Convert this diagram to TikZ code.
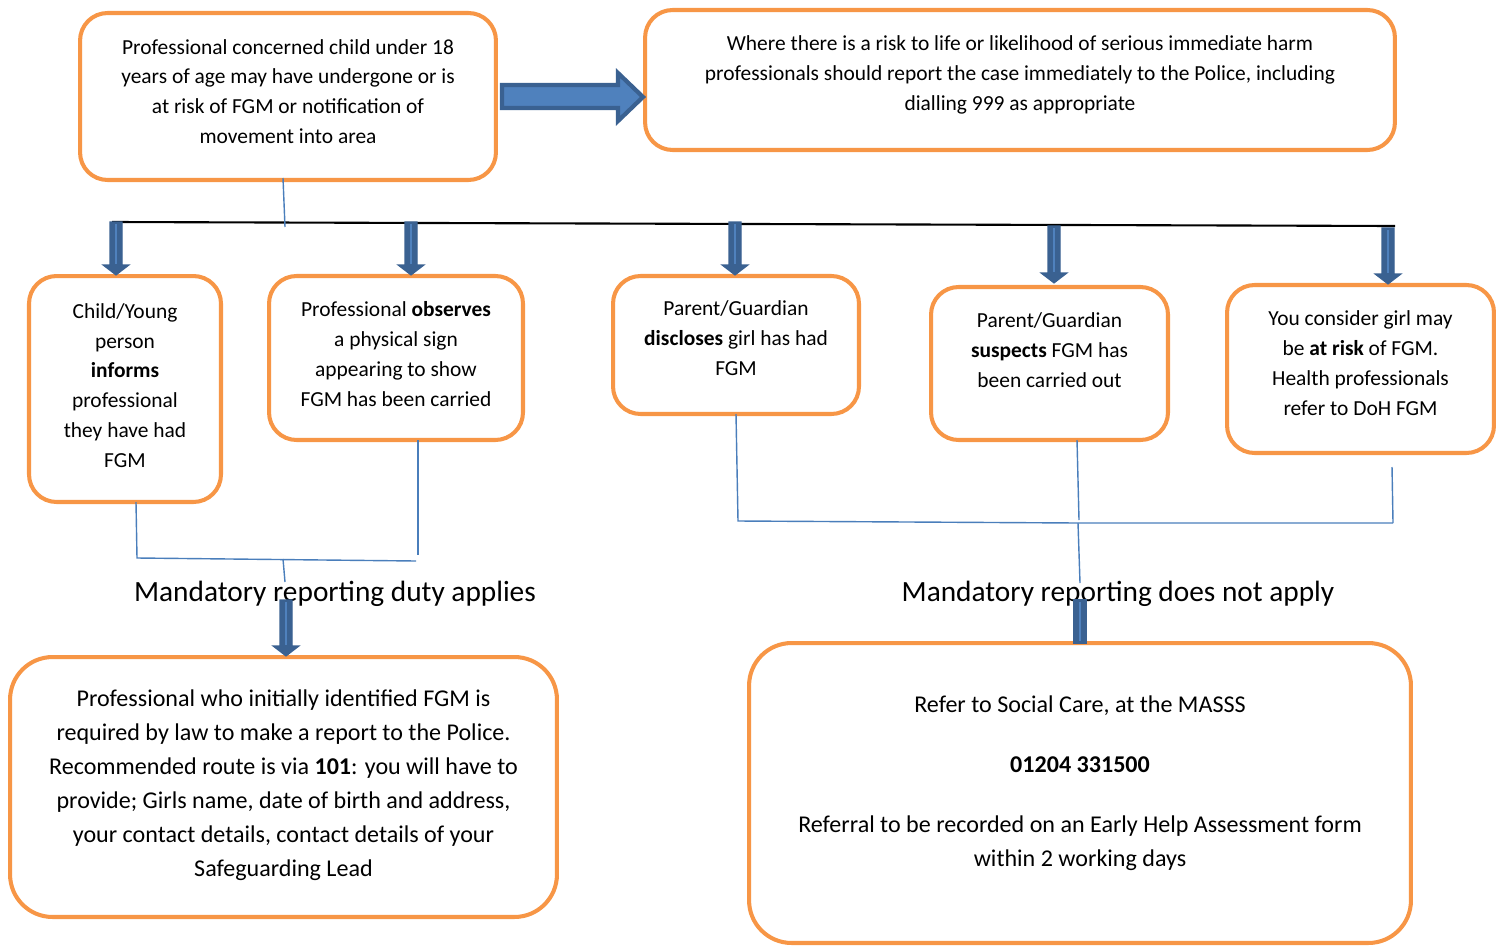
\documentclass[tikz,border=0pt]{standalone}
\usepackage{fontspec}
\setmainfont{Carlito}
\definecolor{boxorange}{HTML}{F79646}
\definecolor{arrowblue}{HTML}{4F81BD}
\definecolor{arrowdark}{HTML}{3A6191}
\definecolor{linkblue}{HTML}{4A7EBB}
\tikzset{
  box/.style={draw=boxorange, line width=2.3pt, rounded corners=0.55cm, fill=white, inner sep=0pt},
  bigbox/.style={box, rounded corners=0.85cm},
  smalltext/.style={align=center, inner sep=0pt, font=\fontsize{12.2}{17}\selectfont},
  bigtext/.style={align=center, inner sep=0pt, font=\fontsize{13.7}{19.3}\selectfont},
  labeltext/.style={font=\fontsize{16.7}{19}\selectfont},
  link/.style={draw=linkblue, line width=0.8pt},
  bar/.style={draw=black, line width=1.2pt},
  blockarrow/.style={fill=arrowblue, draw=arrowdark, line width=2.4pt, line join=miter},
  dnarrowshape/.style={fill=arrowdark, draw=arrowdark, line width=0.6pt, line join=miter},
  shine/.style={draw=arrowblue, line width=0.8pt}
}
\newcommand\dnblock[4]{% name x ytop ybottom
  \fill[dnarrowshape] (#2-6,#3) -- (#2+6,#3) -- (#2+6,#4-10) -- (#2+13,#4-10) -- (#2,#4) -- (#2-13,#4-10) -- (#2-6,#4-10) -- cycle;
  \draw[shine] (#2,#3+2) -- (#2,#4-11);
  \coordinate (#1) at (#2,#4);
}
\begin{document}
\begin{tikzpicture}[x=0.02cm,y=-0.02cm]
\useasboundingbox (0,0) rectangle (1496,946);
\clip (0,0) rectangle (1496,946);

% top boxes
\node[box, minimum width=8.32cm, minimum height=3.34cm] (tl) at (288,96.5) {};
\node[smalltext] (tlt) at (288,91.5)
  {Professional concerned child under 18\\ years of age may have undergone or is\\ at risk of FGM or notification of\\ movement into area};
\node[box, minimum width=15cm, minimum height=2.8cm] (tr) at (1020,80) {};
\node[smalltext] (trt) at (1020,75)
  {Where there is a risk to life or likelihood of serious immediate harm\\ professionals should report the case immediately to the Police, including\\ dialling 999 as appropriate};

% big right arrow
\fill[blockarrow] (502,85) -- (618,85) -- (618,73) -- (643,97) -- (618,121) -- (618,108) -- (502,108) -- cycle;

% horizontal bar and link
\coordinate (barL) at (112,222);
\coordinate (barR) at (1395,226);
\draw[bar] (barL) -- (barR);
\coordinate (tlb) at (283,178);
\coordinate (barmid) at (285,227);
\draw[link] (tlb) -- (barmid);

% row-2 boxes
\node[box, minimum width=3.84cm, minimum height=4.52cm] (b1) at (125,389) {};
\node[smalltext] (b1t) at (125,385.5)
  {Child/Young\\ person\\ \textbf{informs}\\ professional\\ they have had\\ FGM};
\node[box, minimum width=5.08cm, minimum height=3.28cm] (b2) at (396,358) {};
\node[smalltext] (b2t) at (396,354)
  {Professional \textbf{observes}\\ a physical sign\\ appearing to show\\ FGM has been carried};
\node[box, minimum width=4.92cm, minimum height=2.76cm] (b3) at (736,345) {};
\node[smalltext] (b3t) at (736,338)
  {Parent/Guardian\\ \textbf{discloses} girl has had\\ FGM};
\node[box, minimum width=4.74cm, minimum height=3.06cm] (b4) at (1049.5,363.5) {};
\node[smalltext] (b4t) at (1049.5,350)
  {Parent/Guardian\\ \textbf{suspects} FGM has\\ been carried out};
\node[box, minimum width=5.34cm, minimum height=3.36cm] (b5) at (1360.5,369) {};
\node[smalltext] (b5t) at (1360.5,363)
  {You consider girl may\\ be \textbf{at risk} of FGM.\\ Health professionals\\ refer to DoH FGM};

% down arrows from bar
\dnblock{a1}{116}{222}{275}
\dnblock{a2}{411}{222}{275}
\dnblock{a3}{735}{222}{275}
\dnblock{a4}{1054}{226}{283}
\dnblock{a5}{1388}{228}{284}

% left connectors
\coordinate (lj1) at (137,558);
\coordinate (lj2) at (416,561);
\coordinate (ljm) at (283,559);
\coordinate (ljd) at (285,582);
\draw[link] (136,502) -- (lj1) -- (lj2);
\draw[link] (418,440) -- (418,555);
\draw[link] (ljm) -- (ljd);
\node[labeltext, anchor=center] (mand) at (335,594) {Mandatory reporting duty applies};

% right connectors
\coordinate (rj1) at (738,521);
\coordinate (rjm) at (1078,523);
\coordinate (rj2) at (1393,523);
\draw[link] (736,414) -- (rj1) -- (rjm) -- (rj2);
\draw[link] (1077,440) -- (1079,520);
\draw[link] (1392,467) -- (rj2);
\draw[link] (rjm) -- (1080,583);
\node[labeltext, anchor=center] (nomand) at (1118,594) {Mandatory reporting does not apply};

% bottom boxes
\node[bigbox, minimum width=10.94cm, minimum height=5.2cm] (bl) at (283.5,787) {};
\node[bigtext] (blt) at (283.5,785)
  {Professional who initially identified FGM is\\ required by law to make a report to the Police.\\ Recommended route is via \textbf{101}: you will have to\\ provide; Girls name, date of birth and address,\\ your contact details, contact details of your\\ Safeguarding Lead};
\node[bigbox, minimum width=13.24cm, minimum height=6cm] (br) at (1080,793) {};
\node[bigtext] (brt) at (1080,783)
  {Refer to Social Care, at the MASSS\\[15pt] \textbf{01204 331500}\\[15pt] Referral to be recorded on an Early Help Assessment form\\ within 2 working days};

% arrows to bottom boxes
\dnblock{a6}{286}{600}{656}
\fill[dnarrowshape] (1074,600) rectangle (1086,643);
\draw[shine] (1080,602) -- (1080,641);
\end{tikzpicture}
\end{document}
